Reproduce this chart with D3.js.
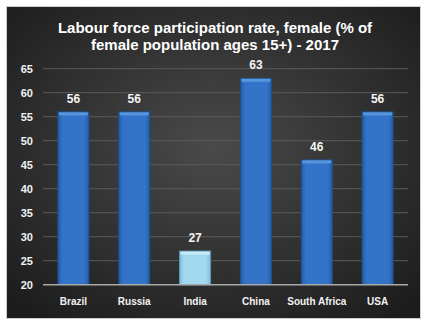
<!DOCTYPE html>
<html><head><meta charset="utf-8">
<script src="https://cdn.jsdelivr.net/npm/d3@7/dist/d3.min.js"></script>
<style>html,body{margin:0;padding:0;background:#fff;}svg{display:block;}</style>
</head><body>
<script>
const categories = ["Brazil","Russia","India","China","South Africa","USA"];
const values = [56,56,27,63,46,56];
const highlight = [false,false,true,false,false,false];
const yTicks = [20,25,30,35,40,45,50,55,60,65];
const titleLines = ["Labour force participation rate, female (% of","female population ages 15+) - 2017"];

const W=428,H=328;
const svg=d3.select("body").append("svg").attr("width",W).attr("height",H);
const defs=svg.append("defs");
const bg=defs.append("radialGradient").attr("id","bg").attr("cx","50%").attr("cy","45%").attr("r","70%");
bg.append("stop").attr("offset","0%").attr("stop-color","#4a4a4a");
bg.append("stop").attr("offset","100%").attr("stop-color","#1c1c1c");
const bl=defs.append("linearGradient").attr("id","blue").attr("x1","0").attr("x2","1");
bl.append("stop").attr("offset","0%").attr("stop-color","#245ca6");
bl.append("stop").attr("offset","15%").attr("stop-color","#3374c8");
bl.append("stop").attr("offset","85%").attr("stop-color","#3374c8");
bl.append("stop").attr("offset","100%").attr("stop-color","#245ca6");
const lb=defs.append("linearGradient").attr("id","lblue").attr("x1","0").attr("x2","1");
lb.append("stop").attr("offset","0%").attr("stop-color","#7fbfdc");
lb.append("stop").attr("offset","15%").attr("stop-color","#a3d9ee");
lb.append("stop").attr("offset","85%").attr("stop-color","#a3d9ee");
lb.append("stop").attr("offset","100%").attr("stop-color","#7fbfdc");

svg.append("rect").attr("x",6.5).attr("y",6.5).attr("width",414).attr("height",312)
  .attr("fill","url(#bg)").attr("stroke","#cfcfcf");

const m={l:43,r:408,t:68.7,b:284.7};
const x=d3.scaleBand().domain(categories).range([m.l,m.r]).paddingInner(0.49).paddingOuter(0.245);
const y=d3.scaleLinear().domain([20,65]).range([m.b,m.t]);

// gridlines
svg.append("g").selectAll("line").data(yTicks.slice(1)).join("line")
  .attr("x1",m.l).attr("x2",m.r).attr("y1",d=>y(d)).attr("y2",d=>y(d))
  .attr("stroke","#5a5a5a").attr("stroke-width",1);

// y axis labels
const yAxis=d3.axisLeft(y).tickValues(yTicks).tickSize(0).tickPadding(10);
const ga=svg.append("g").attr("transform",`translate(${m.l},0)`).call(yAxis);
ga.select(".domain").remove();
ga.selectAll("text").attr("fill","#f2f2f2").attr("font-family","Liberation Sans, Arial, sans-serif")
  .attr("font-size",11).attr("font-weight","bold").attr("dy","0.35em");

// bars
const bars=svg.append("g").selectAll("g").data(categories).join("g");
bars.append("rect").attr("x",d=>x(d)).attr("width",x.bandwidth())
  .attr("y",(d,i)=>y(values[i])).attr("height",(d,i)=>m.b-y(values[i]))
  .attr("fill",(d,i)=>highlight[i]?"url(#lblue)":"url(#blue)")
  .attr("stroke",(d,i)=>highlight[i]?"#5d9bb8":"#1d4f8e").attr("stroke-width",1);
bars.append("rect").attr("x",d=>x(d)+1).attr("width",x.bandwidth()-2)
  .attr("y",(d,i)=>y(values[i])+0.5).attr("height",3)
  .attr("fill",(d,i)=>highlight[i]?"#c6ebf7":"#5a95dc");
bars.append("text").attr("x",d=>x(d)+x.bandwidth()/2).attr("y",(d,i)=>y(values[i])-9)
  .attr("text-anchor","middle").attr("fill","#f5f5f5")
  .attr("font-family","Liberation Sans, Arial, sans-serif").attr("font-size",12).attr("font-weight","bold")
  .text((d,i)=>values[i]);

// x axis
svg.append("line").attr("x1",m.l).attr("x2",m.r).attr("y1",m.b).attr("y2",m.b)
  .attr("stroke","#a8a8a8").attr("stroke-width",1.5);
const xAxis=d3.axisBottom(x).tickSize(0).tickPadding(13);
const gx=svg.append("g").attr("transform",`translate(0,${m.b})`).call(xAxis);
gx.select(".domain").remove();
gx.selectAll("text").attr("fill","#f2f2f2").attr("font-family","Liberation Sans, Arial, sans-serif")
  .attr("font-size",10).attr("font-weight","bold");

// title
svg.append("g").selectAll("text").data(titleLines).join("text")
  .attr("x",215).attr("y",(d,i)=>33+i*17).attr("text-anchor","middle")
  .attr("fill","#ffffff").attr("font-family","Liberation Sans, Arial, sans-serif")
  .attr("font-size",15).attr("font-weight","bold").text(d=>d);
</script>
</body></html>
